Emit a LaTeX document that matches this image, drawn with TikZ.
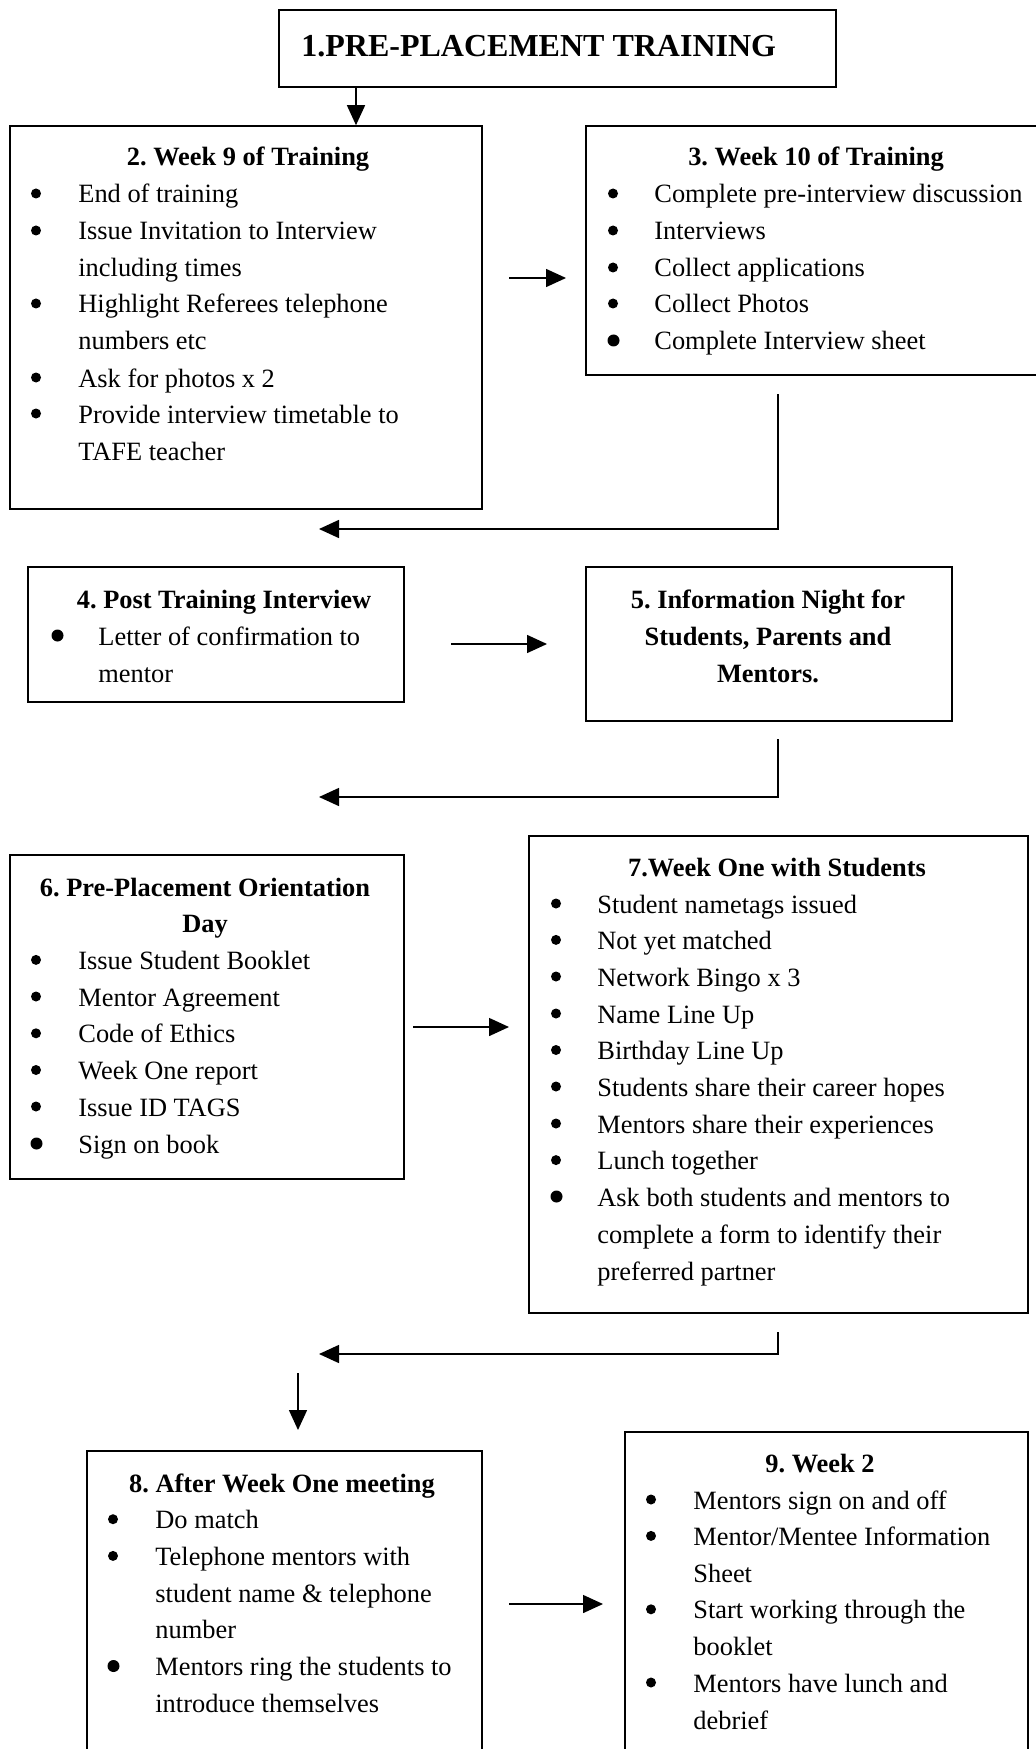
\documentclass[tikz,border=0pt]{standalone}
\usepackage{fontspec}
\setmainfont{Liberation Serif}
\usetikzlibrary{arrows.meta,fit}
\frenchspacing
\newcommand\bodyfont{\fontsize{13.2pt}{18.35pt}\selectfont\frenchspacing}
\tikzset{
  box/.style={draw, line width=0.8pt, inner sep=0pt},
  txt/.style={anchor=base west, inner sep=0pt, font=\bodyfont},
  hd/.style={anchor=base, inner sep=0pt, font=\bodyfont\bfseries},
  bul/.style={circle, fill=black, inner sep=0pt, minimum size=5pt, yshift=4.75pt},
  bigbul/.style={circle, fill=black, inner sep=0pt, minimum size=6pt, yshift=4.75pt},
  arr/.style={line width=0.75pt, -{Triangle[length=10pt,width=9pt]}},
}
\begin{document}
\begin{tikzpicture}[x=0.5pt,y=-0.5pt]
\useasboundingbox (0,0) rectangle (1036,1749);
\fill[white] (0,0) rectangle (1036,1749);
\clip (0,0) rectangle (1036,1749);

% boxes
\node[box, fit={(279,10) (836,87)}] (b1) {};
\node[box, fit={(10,126) (482,509)}] (b2) {};
\node[box, fit={(586,126) (1046,375)}] (b3) {};
\node[box, fit={(28,567) (404,702)}] (b4) {};
\node[box, fit={(586,567) (952,721)}] (b5) {};
\node[box, fit={(10,855) (404,1179)}] (b6) {};
\node[box, fit={(529,836) (1028,1313)}] (b7) {};
\node[box, fit={(87,1451) (482,1770)}] (b8) {};
\node[box, fit={(625,1432) (1028,1770)}] (b9) {};

% box 1
\node[anchor=base west, inner sep=0pt, font=\fontsize{16pt}{19pt}\selectfont\bfseries\frenchspacing] (h1) at (301,57) {1.PRE-PLACEMENT TRAINING};

% box 2
\node[hd] (h2) at (248,166) {2. Week 9 of Training};
\node[bul] (u2a) at (36,203) {}; \node[txt] (t2a) at (78,203) {End of training};
\node[bul] (u2b) at (36,240) {}; \node[txt] (t2b) at (78,240) {Issue Invitation to Interview};
\node[txt] (t2c) at (78,277) {including times};
\node[bul] (u2d) at (36,313) {}; \node[txt] (t2d) at (78,313) {Highlight Referees telephone};
\node[txt] (t2e) at (78,350) {numbers etc};
\node[bul] (u2f) at (36,387) {}; \node[txt] (t2f) at (78,387) {Ask for photos x 2};
\node[bul] (u2g) at (36,423) {}; \node[txt] (t2g) at (78,423) {Provide interview timetable to};
\node[txt] (t2h) at (78,460) {TAFE teacher};

% box 3
\node[hd] (h3) at (816,166) {3. Week 10 of Training};
\node[bul] (u3a) at (613,203) {}; \node[txt] (t3a) at (654,203) {Complete pre-interview discussion};
\node[bul] (u3b) at (613,240) {}; \node[txt] (t3b) at (654,240) {Interviews};
\node[bul] (u3c) at (613,277) {}; \node[txt] (t3c) at (654,277) {Collect applications};
\node[bul] (u3d) at (613,313) {}; \node[txt] (t3d) at (654,313) {Collect Photos};
\node[bigbul] (u3e) at (613.5,350) {}; \node[txt] (t3e) at (654,350) {Complete Interview sheet};

% box 4
\node[hd] (h4) at (224,608) {4. Post Training Interview};
\node[bigbul] (u4a) at (57.5,645) {}; \node[txt] (t4a) at (98,645) {Letter of confirmation to};
\node[txt] (t4b) at (98,682) {mentor};

% box 5
\node[hd] (h5a) at (768,608) {5. Information Night for};
\node[hd] (h5b) at (768,645) {Students, Parents and};
\node[hd] (h5c) at (768,682) {Mentors.};

% box 6
\node[hd] (h6a) at (205,896) {6. Pre-Placement Orientation};
\node[hd] (h6b) at (205,932.7) {Day};
\node[bul] (u6a) at (36,969.4) {}; \node[txt] (t6a) at (78,969.4) {Issue Student Booklet};
\node[bul] (u6b) at (36,1006) {}; \node[txt] (t6b) at (78,1006) {Mentor Agreement};
\node[bul] (u6c) at (36,1042.8) {}; \node[txt] (t6c) at (78,1042.8) {Code of Ethics};
\node[bul] (u6d) at (36,1079.5) {}; \node[txt] (t6d) at (78,1079.5) {Week One report};
\node[bul] (u6e) at (36,1116) {}; \node[txt] (t6e) at (78,1116) {Issue ID TAGS};
\node[bigbul] (u6f) at (36.5,1153) {}; \node[txt] (t6f) at (78,1153) {Sign on book};

% box 7
\node[hd] (h7) at (777,876) {7.Week One with Students};
\node[bul] (u7a) at (556,913) {}; \node[txt] (t7a) at (597,913) {Student nametags issued};
\node[bul] (u7b) at (556,949.4) {}; \node[txt] (t7b) at (597,949.4) {Not yet matched};
\node[bul] (u7c) at (556,986) {}; \node[txt] (t7c) at (597,986) {Network Bingo x 3};
\node[bul] (u7d) at (556,1023) {}; \node[txt] (t7d) at (597,1023) {Name Line Up};
\node[bul] (u7e) at (556,1059.5) {}; \node[txt] (t7e) at (597,1059.5) {Birthday Line Up};
\node[bul] (u7f) at (556,1096) {}; \node[txt] (t7f) at (597,1096) {Students share their career hopes};
\node[bul] (u7g) at (556,1133) {}; \node[txt] (t7g) at (597,1133) {Mentors share their experiences};
\node[bul] (u7h) at (556,1169.6) {}; \node[txt] (t7h) at (597,1169.6) {Lunch together};
\node[bigbul] (u7i) at (556.5,1206) {}; \node[txt] (t7i) at (597,1206) {Ask both students and mentors to};
\node[txt] (t7j) at (597,1243) {complete a form to identify their};
\node[txt] (t7k) at (597,1280) {preferred partner};

% box 8
\node[hd] (h8) at (282,1492) {8. After Week One meeting};
\node[bul] (u8a) at (113,1528.7) {}; \node[txt] (t8a) at (155,1528.7) {Do match};
\node[bul] (u8b) at (113,1565.4) {}; \node[txt] (t8b) at (155,1565.4) {Telephone mentors with};
\node[txt] (t8c) at (155,1602) {student name \& telephone};
\node[txt] (t8d) at (155,1638.8) {number};
\node[bigbul] (u8e) at (113.5,1675.5) {}; \node[txt] (t8e) at (155,1675.5) {Mentors ring the students to};
\node[txt] (t8f) at (155,1712) {introduce themselves};

% box 9
\node[hd] (h9) at (820,1472) {9. Week 2};
\node[bul] (u9a) at (651,1509) {}; \node[txt] (t9a) at (693,1509) {Mentors sign on and off};
\node[bul] (u9b) at (651,1545.4) {}; \node[txt] (t9b) at (693,1545.4) {Mentor/Mentee Information};
\node[txt] (t9c) at (693,1582) {Sheet};
\node[bul] (u9d) at (651,1618.8) {}; \node[txt] (t9d) at (693,1618.8) {Start working through the};
\node[txt] (t9e) at (693,1655.5) {booklet};
\node[bul] (u9f) at (651,1692) {}; \node[txt] (t9f) at (693,1692) {Mentors have lunch and};
\node[txt] (t9g) at (693,1729) {debrief};

% connectors
\coordinate (x12) at (356,0);
\draw[arr] (x12 |- b1.south) -- (x12 |- b2.north);

\coordinate (a23s) at (509,278); \coordinate (a23e) at (566,278);
\draw[arr] (a23s) -- (a23e);

\coordinate (c34a) at (778,394); \coordinate (c34b) at (778,529); \coordinate (c34c) at (319,529);
\draw[arr] (c34a) -- (c34b) -- (c34c);

\coordinate (a45s) at (451,644); \coordinate (a45e) at (547,644);
\draw[arr] (a45s) -- (a45e);

\coordinate (c56a) at (778,739); \coordinate (c56b) at (778,797); \coordinate (c56c) at (319,797);
\draw[arr] (c56a) -- (c56b) -- (c56c);

\coordinate (a67s) at (413,1027); \coordinate (a67e) at (509,1027);
\draw[arr] (a67s) -- (a67e);

\coordinate (c78a) at (778,1332); \coordinate (c78b) at (778,1354); \coordinate (c78c) at (319,1354);
\draw[arr] (c78a) -- (c78b) -- (c78c);

\coordinate (d8s) at (298,1373); \coordinate (d8e) at (298,1430);
\draw[arr] (d8s) -- (d8e);

\coordinate (a89s) at (509,1604); \coordinate (a89e) at (603,1604);
\draw[arr] (a89s) -- (a89e);
\end{tikzpicture}
\end{document}
